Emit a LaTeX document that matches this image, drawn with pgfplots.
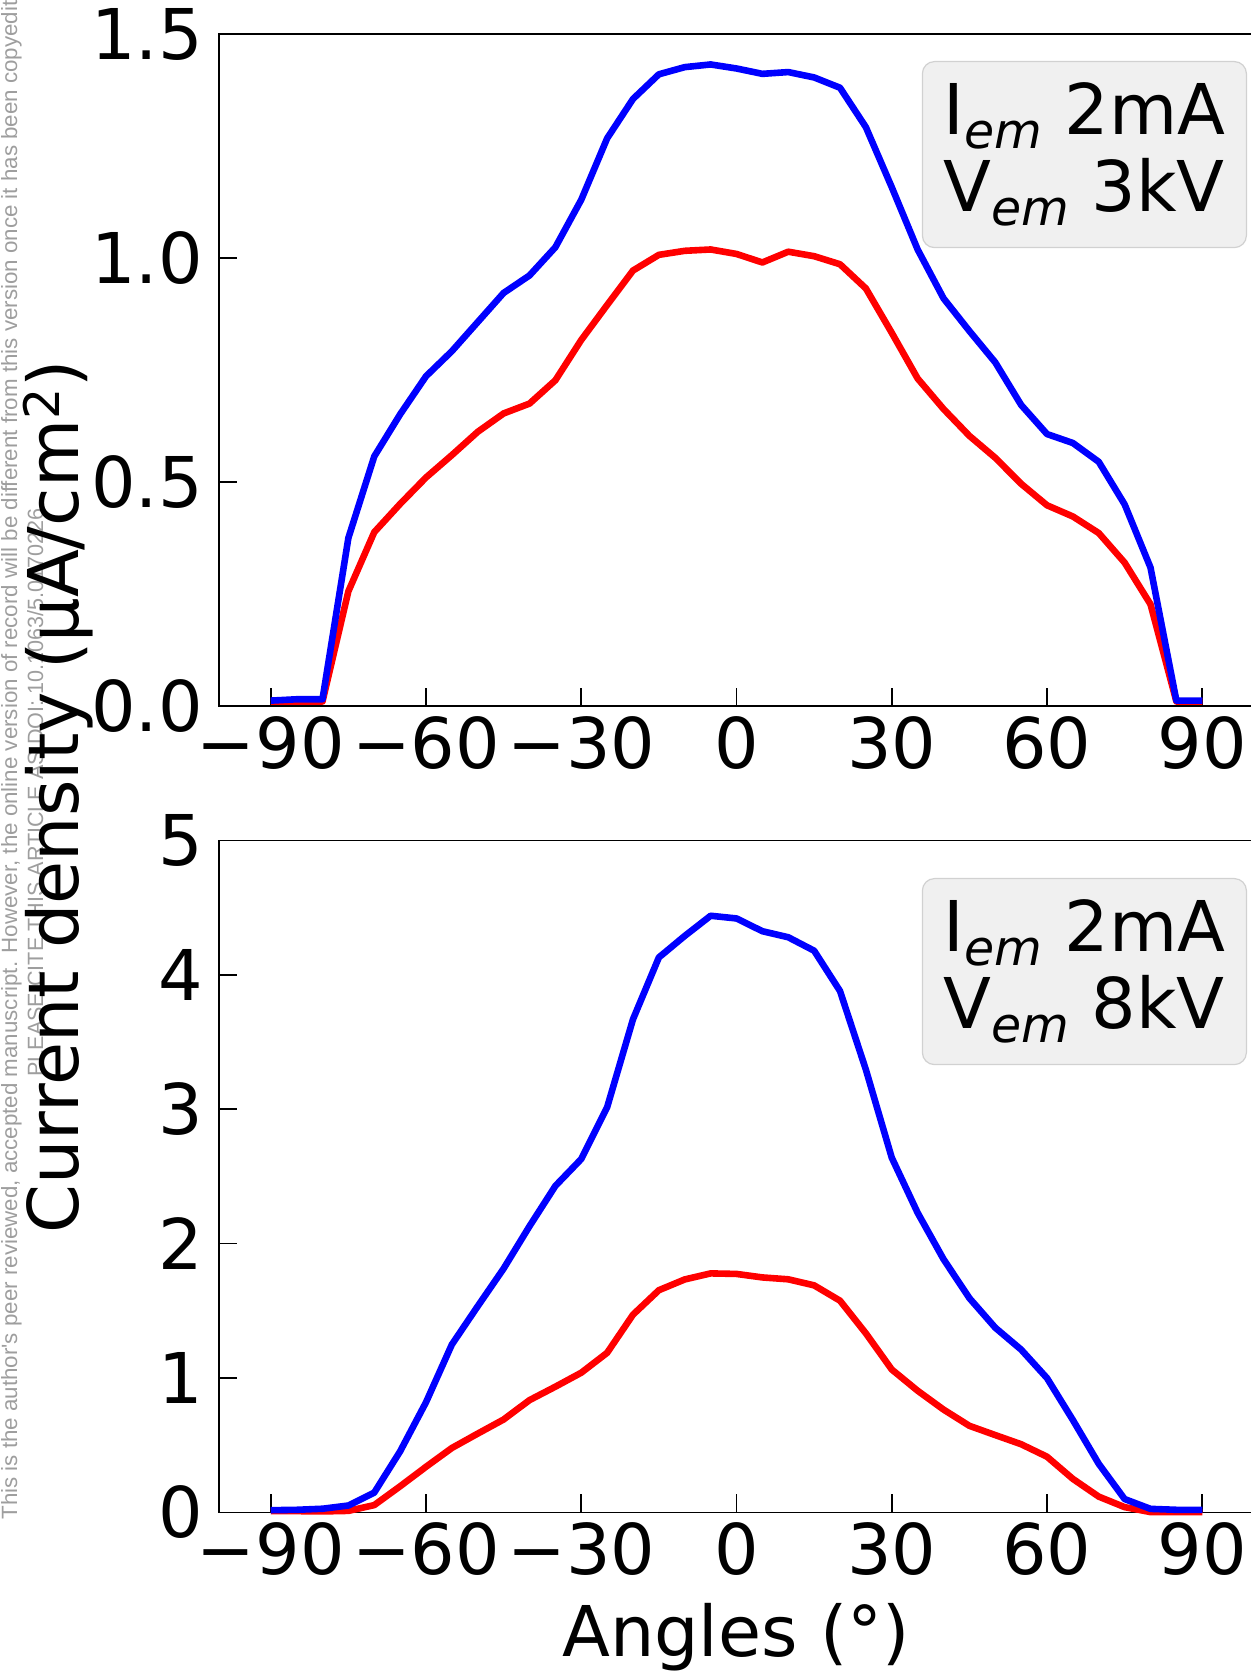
\documentclass[border=0pt]{standalone}
\usepackage{pgfplots}
\pgfplotsset{compat=1.18}
\usepackage{fontspec}
\setmainfont{DejaVu Sans}
\newfontfamily\wmfont{Liberation Sans}
\usepackage{graphicx}
\newcommand{\bigfnt}{\fontsize{35}{38.5}\selectfont}
\newcommand{\emsub}[1]{\raisebox{-7pt}{\fontsize{24.5}{24.5}\selectfont\itshape #1}}
\pgfplotsset{
  myaxis/.style={
    scale only axis, width=517.5pt, height=336pt, anchor=south west,
    xmin=-100, xmax=100, ymin=0,
    xtick={-90,-60,-30,0,30,60,90},
    xticklabels={−90,−60,−30,0,30,60,90},
    tick align=inside, xtick pos=bottom, ytick pos=left,
    major tick length=9pt,
    every tick/.style={black, line width=0.8pt},
    axis line style={line width=0.7pt},
    tick label style={font=\bigfnt},
    xticklabel style={anchor=north, inner sep=0pt, yshift=-5pt},
    yticklabel style={anchor=east, inner sep=0pt, xshift=-8pt},
    clip=false,
  },
  bl/.style={blue, line width=3.3pt, line join=round, no markers},
  rd/.style={red, line width=3.3pt, line join=round, no markers},
}
\begin{document}
\begin{tikzpicture}
% watermark
\node[rotate=90, anchor=base west, text=black!38, inner sep=0pt] at (8.5pt,75.5pt)
  {\resizebox{836pt}{8pt}{\wmfont This is the author's peer reviewed, accepted manuscript. However, the online version of record will be different from this version once it has been copyedited and typeset.}};
\node[rotate=90, anchor=base west, text=black!38, inner sep=0pt] at (21.5pt,297pt)
  {\resizebox{284pt}{8pt}{\wmfont PLEASE CITE THIS ARTICLE AS DOI: 10.1063/5.0170226}};

\begin{axis}[myaxis, at={(109.5pt,482.5pt)}, ymax=1.5,
  ytick={0,0.5,1,1.5}, yticklabels={0.0,0.5,1.0,1.5}]
\addplot[rd] coordinates {(-90,0.01) (-85,0.01) (-80,0.01) (-75,0.256) (-70,0.388) (-65,0.451) (-60,0.51) (-55,0.56) (-50,0.612) (-45,0.653) (-40,0.675) (-35,0.727) (-30,0.817) (-25,0.895) (-20,0.972) (-15,1.007) (-10,1.016) (-5,1.019) (0,1.009) (5,0.99) (10,1.014) (15,1.004) (20,0.986) (25,0.932) (30,0.833) (35,0.731) (40,0.663) (45,0.603) (50,0.554) (55,0.496) (60,0.448) (65,0.423) (70,0.386) (75,0.32) (80,0.227) (85,0.01) (90,0.01)};
\addplot[bl] coordinates {(-90,0.012) (-85,0.015) (-80,0.015) (-75,0.375) (-70,0.557) (-65,0.651) (-60,0.736) (-55,0.792) (-50,0.857) (-45,0.922) (-40,0.961) (-35,1.024) (-30,1.13) (-25,1.267) (-20,1.355) (-15,1.41) (-10,1.426) (-5,1.432) (0,1.423) (5,1.411) (10,1.415) (15,1.403) (20,1.38) (25,1.292) (30,1.158) (35,1.019) (40,0.91) (45,0.837) (50,0.767) (55,0.672) (60,0.607) (65,0.587) (70,0.545) (75,0.45) (80,0.309) (85,0.012) (90,0.012)};
\end{axis}

\begin{axis}[myaxis, at={(109.5pt,79.25pt)}, ymax=5,
  ytick={0,1,2,3,4,5}, yticklabels={0,1,2,3,4,5}]
\addplot[rd] coordinates {(-90,0.01) (-85,0.01) (-80,0.008) (-75,0.012) (-70,0.055) (-65,0.195) (-60,0.34) (-55,0.48) (-50,0.587) (-45,0.692) (-40,0.836) (-35,0.936) (-30,1.04) (-25,1.188) (-20,1.472) (-15,1.654) (-10,1.734) (-5,1.779) (0,1.775) (5,1.749) (10,1.735) (15,1.69) (20,1.576) (25,1.333) (30,1.064) (35,0.906) (40,0.766) (45,0.645) (50,0.576) (55,0.508) (60,0.415) (65,0.25) (70,0.118) (75,0.04) (80,0.003) (85,0.003) (90,0.003)};
\addplot[bl] coordinates {(-90,0.017) (-85,0.02) (-80,0.028) (-75,0.052) (-70,0.148) (-65,0.455) (-60,0.82) (-55,1.25) (-50,1.535) (-45,1.815) (-40,2.13) (-35,2.43) (-30,2.63) (-25,3.015) (-20,3.67) (-15,4.13) (-10,4.29) (-5,4.44) (0,4.42) (5,4.325) (10,4.28) (15,4.18) (20,3.88) (25,3.295) (30,2.64) (35,2.23) (40,1.885) (45,1.595) (50,1.375) (55,1.212) (60,1.0) (65,0.688) (70,0.362) (75,0.1) (80,0.027) (85,0.02) (90,0.02)};
\end{axis}

% legend-like boxes
\node[draw=black!18, fill=black!6, line width=0.6pt, rounded corners=6pt, anchor=north east,
  minimum width=162pt, minimum height=93pt, inner sep=0pt, align=left, font=\bigfnt]
  at (623.5pt,805pt) {I\emsub{em} 2mA\\V\emsub{em} 3kV};
\node[draw=black!18, fill=black!6, line width=0.6pt, rounded corners=6pt, anchor=north east,
  minimum width=162pt, minimum height=93pt, inner sep=0pt, align=left, font=\bigfnt]
  at (623.5pt,396.5pt) {I\emsub{em} 2mA\\V\emsub{em} 8kV};

% axis labels
\node[rotate=90, anchor=base, inner sep=0pt, font=\bigfnt] at (39pt,437pt) {Current density (µA/cm\textsuperscript{2})};
\node[anchor=base, inner sep=0pt, font=\bigfnt] at (368pt,7pt) {Angles (°)};

\pgfresetboundingbox
\path[use as bounding box] (0,0) rectangle (625.5pt,835.5pt);
\end{tikzpicture}
\end{document}
